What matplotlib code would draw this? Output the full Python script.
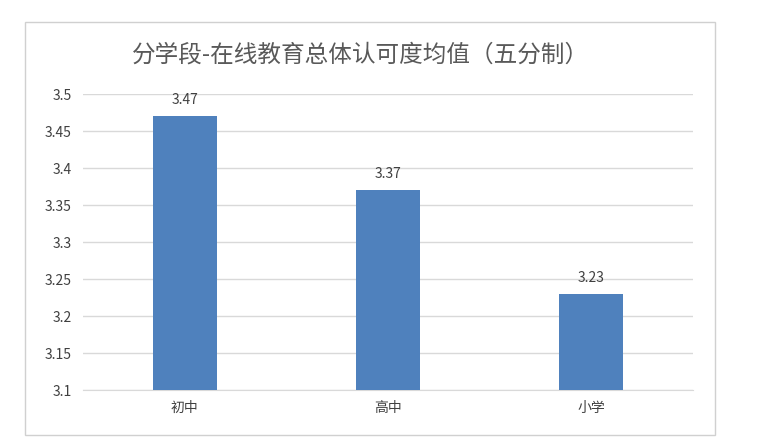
import matplotlib
matplotlib.use("Agg")
import matplotlib.pyplot as plt
from matplotlib.patches import Rectangle

plt.rcParams['font.family'] = ['Noto Sans CJK SC', 'DejaVu Sans']

categories = ['初中', '高中', '小学']
values = [3.47, 3.37, 3.23]
yticks = [3.1, 3.15, 3.2, 3.25, 3.3, 3.35, 3.4, 3.45, 3.5]
title = '分学段-在线教育总体认可度均值（五分制）'

fig = plt.figure(figsize=(7.6, 4.48), dpi=100)
fig.patches.append(Rectangle((0.033, 0.029), 0.908, 0.922, transform=fig.transFigure,
                             fill=False, edgecolor='#d0d0d0', linewidth=1))
ax = fig.add_axes([0.109, 0.129, 0.803, 0.661])
x = range(len(categories))
ax.bar(x, values, width=0.315, color='#4f81bd', zorder=3)
ax.set_xlim(-0.5, 2.5)
ax.set_ylim(3.1, 3.5)
ax.set_yticks(yticks)
ax.set_yticklabels([f'{t:g}' for t in yticks], fontsize=10, color='#404040')
ax.set_xticks(list(x))
ax.set_xticklabels(categories, fontsize=10, color='#404040')
ax.grid(axis='y', color='#d9d9d9', linewidth=1, zorder=0)
for s in ['top', 'right', 'left']:
    ax.spines[s].set_visible(False)
ax.spines['bottom'].set_color('#d9d9d9')
ax.tick_params(length=0, pad=8)
for i, v in enumerate(values):
    ax.text(i, v + 0.012, f'{v:.2f}', ha='center', va='bottom', fontsize=10, color='#404040')
fig.text(0.475, 0.877, title, ha='center', va='center', fontsize=17, color='#595959')
fig.savefig('out.png', dpi=100)
